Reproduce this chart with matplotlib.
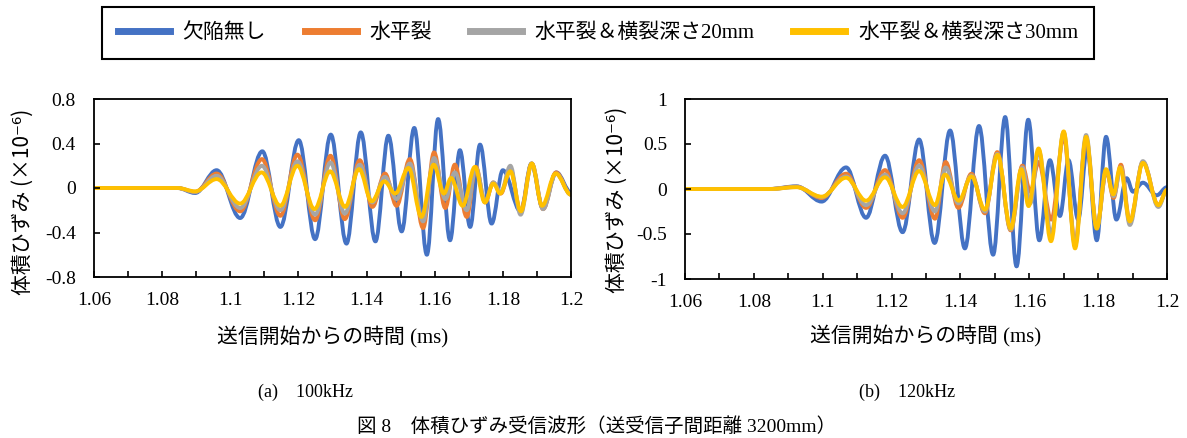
import matplotlib
matplotlib.use('Agg')
import matplotlib.pyplot as plt
from matplotlib.path import Path
from matplotlib.patches import PathPatch
from matplotlib.lines import Line2D

plt.rcParams['axes.unicode_minus'] = False

JP = ['Noto Sans CJK JP', 'DejaVu Sans']
MIX = ['Liberation Serif', 'Noto Sans CJK JP', 'DejaVu Sans']

series_names = ['欠陥無し', '水平裂', '水平裂＆横裂深さ20mm', '水平裂＆横裂深さ30mm']
colors = ['#4472C4', '#ED7D31', '#A5A5A5', '#FFC000']

xticks = [1.06, 1.08, 1.10, 1.12, 1.14, 1.16, 1.18, 1.20]
xtick_labels = ['1.06', '1.08', '1.1', '1.12', '1.14', '1.16', '1.18', '1.2']

# (a) 100kHz -- extrema of each waveform (time in ms, strain x1e-6)
t100_blue = [1.06, 1.0845, 1.0897, 1.0960, 1.1029, 1.1094, 1.1147, 1.1201, 1.1249, 1.1295,
             1.1341, 1.1383, 1.1426, 1.1464, 1.1503, 1.1540, 1.1577, 1.1610, 1.1645, 1.1674,
             1.1704, 1.1733, 1.1767, 1.1800, 1.1852, 1.1884, 1.1917, 1.1957, 1.2]
v100_blue = [0, 0, -0.045, 0.16, -0.27, 0.33, -0.35, 0.43, -0.46, 0.48,
             -0.50, 0.50, -0.48, 0.47, -0.39, 0.54, -0.60, 0.62, -0.47, 0.34,
             -0.35, 0.39, -0.32, 0.16, -0.21, 0.22, -0.18, 0.14, -0.04]

t100_orange = [1.06, 1.0845, 1.0897, 1.0960, 1.1029, 1.1093, 1.1147, 1.1197, 1.1249, 1.1294,
               1.1336, 1.1380, 1.1417, 1.1454, 1.1488, 1.1527, 1.1566, 1.1598, 1.1631, 1.1659,
               1.1694, 1.1721, 1.1748, 1.1772, 1.1794, 1.1822, 1.1852, 1.1885, 1.1918, 1.1956, 1.2]
v100_orange = [0, 0, -0.035, 0.13, -0.21, 0.26, -0.25, 0.30, -0.29, 0.29,
               -0.28, 0.25, -0.17, 0.13, -0.16, 0.26, -0.36, 0.32, -0.18, 0.21,
               -0.26, 0.19, -0.13, 0.05, -0.05, 0.17, -0.21, 0.22, -0.19, 0.14, -0.06]

t100_gray = t100_orange
v100_gray = [0, 0, -0.035, 0.11, -0.18, 0.20, -0.20, 0.24, -0.24, 0.23,
             -0.23, 0.21, -0.13, 0.10, -0.10, 0.22, -0.30, 0.27, -0.10, 0.14,
             -0.20, 0.18, -0.12, 0.05, -0.04, 0.20, -0.24, 0.22, -0.19, 0.13, -0.06]

t100_yellow = [1.06, 1.0845, 1.0897, 1.0960, 1.1029, 1.1092, 1.1147, 1.1197, 1.1247, 1.1293,
               1.1337, 1.1378, 1.1415, 1.1452, 1.1484, 1.1523, 1.1561, 1.1597, 1.1627, 1.1648,
               1.1682, 1.1718, 1.1747, 1.1772, 1.1792, 1.1822, 1.1853, 1.1885, 1.1915, 1.1955, 1.2]
v100_yellow = [0, 0, -0.03, 0.08, -0.14, 0.14, -0.16, 0.20, -0.19, 0.15,
               -0.17, 0.17, -0.12, 0.06, -0.05, 0.18, -0.26, 0.21, -0.05, 0.09,
               -0.16, 0.19, -0.13, 0.04, -0.05, 0.15, -0.21, 0.22, -0.16, 0.13, -0.06]

# (b) 120kHz
t120_blue = [1.06, 1.0845, 1.0924, 1.0997, 1.1068, 1.1126, 1.1181, 1.1232, 1.1280, 1.1325,
             1.1370, 1.1413, 1.1454, 1.1495, 1.1530, 1.1563, 1.1597, 1.1629, 1.1660, 1.1689,
             1.1714, 1.1742, 1.1768, 1.1796, 1.1823, 1.1853, 1.1883, 1.1901, 1.1930, 1.1970, 1.2]
v120_blue = [0, 0, 0.03, -0.14, 0.24, -0.32, 0.37, -0.48, 0.55, -0.60,
             0.65, -0.66, 0.70, -0.73, 0.80, -0.86, 0.77, -0.57, 0.32, -0.30,
             0.32, -0.34, 0.45, -0.57, 0.58, -0.34, 0.12, -0.03, 0.07, -0.07, 0.02]

t120_orange = [1.06, 1.0845, 1.0924, 1.0997, 1.1068, 1.1126, 1.1181, 1.1232, 1.1280, 1.1326,
               1.1357, 1.1394, 1.1432, 1.1471, 1.1507, 1.1546, 1.1580, 1.1603, 1.1627, 1.1664,
               1.1700, 1.1733, 1.1765, 1.1796, 1.1824, 1.1845, 1.1866, 1.1892, 1.1930, 1.1975, 1.2]
v120_orange = [0, 0, 0.025, -0.10, 0.17, -0.21, 0.21, -0.32, 0.32, -0.33,
               0.30, -0.21, 0.17, -0.27, 0.41, -0.46, 0.26, -0.03, 0.30, -0.34,
               0.58, -0.60, 0.56, -0.42, 0.20, -0.10, 0.27, -0.36, 0.30, -0.18, -0.01]

t120_gray = t120_orange
v120_gray = [0, 0, 0.022, -0.09, 0.14, -0.18, 0.16, -0.27, 0.26, -0.25,
             0.24, -0.16, 0.15, -0.25, 0.39, -0.45, 0.24, -0.16, 0.43, -0.50,
             0.63, -0.63, 0.60, -0.43, 0.21, -0.08, 0.24, -0.40, 0.31, -0.20, -0.01]

t120_yellow = [1.06, 1.0845, 1.0924, 1.0997, 1.1068, 1.1126, 1.1181, 1.1232, 1.1280, 1.1326,
               1.1355, 1.1395, 1.1432, 1.1471, 1.1508, 1.1546, 1.1577, 1.1598, 1.1627, 1.1663,
               1.1700, 1.1733, 1.1765, 1.1796, 1.1823, 1.1844, 1.1864, 1.1892, 1.1930, 1.1975, 1.2]
v120_yellow = [0, 0, 0.02, -0.085, 0.125, -0.13, 0.13, -0.20, 0.20, -0.18,
               0.16, -0.13, 0.14, -0.23, 0.38, -0.44, 0.22, -0.19, 0.45, -0.58,
               0.64, -0.66, 0.58, -0.44, 0.22, -0.06, 0.24, -0.36, 0.29, -0.18, -0.01]


def wave(ax, t, v, color, k=0.36):
    # smooth curve through the extrema (horizontal tangent at each one)
    verts = [(t[0], v[0])]
    codes = [Path.MOVETO]
    for i in range(1, len(t)):
        d = t[i] - t[i - 1]
        verts += [(t[i - 1] + k * d, v[i - 1]), (t[i] - k * d, v[i]), (t[i], v[i])]
        codes += [Path.CURVE4] * 3
    ax.add_patch(PathPatch(Path(verts, codes), fill=False, edgecolor=color, lw=2.8,
                           joinstyle='round', capstyle='round'))


def setup(ax, yticks, ylabels, ylim):
    ax.set_xlim(1.06, 1.2)
    ax.set_ylim(*ylim)
    ax.set_xticks(xticks)
    ax.set_xticklabels(xtick_labels, family=MIX, fontsize=14)
    ax.set_xticks([1.07, 1.09, 1.11, 1.13, 1.15, 1.17, 1.19], minor=True)
    ax.set_yticks(yticks)
    ax.set_yticklabels(ylabels, family=MIX, fontsize=14)
    ax.tick_params(which='both', direction='in', length=4, width=1.2, top=False, right=False)
    ax.tick_params(axis='x', pad=11)
    ax.tick_params(axis='y', pad=13)
    for s in ax.spines.values():
        s.set_linewidth(1.3)
        s.set_color('black')


fig = plt.figure(figsize=(11.87, 4.38), dpi=100)
ax1 = fig.add_axes([94 / 1187, 1 - 277 / 438, 477 / 1187, 178 / 438])
ax2 = fig.add_axes([685 / 1187, 1 - 279 / 438, 482 / 1187, 180 / 438])

for t, v, c in [(t100_blue, v100_blue, colors[0]), (t100_orange, v100_orange, colors[1]),
                (t100_gray, v100_gray, colors[2]), (t100_yellow, v100_yellow, colors[3])]:
    wave(ax1, t, v, c)
for t, v, c in [(t120_blue, v120_blue, colors[0]), (t120_orange, v120_orange, colors[1]),
                (t120_gray, v120_gray, colors[2]), (t120_yellow, v120_yellow, colors[3])]:
    wave(ax2, t, v, c)

setup(ax1, [-0.8, -0.4, 0, 0.4, 0.8], ['-0.8', '-0.4', '0', '0.4', '0.8'], (-0.8, 0.8))
setup(ax2, [-1, -0.5, 0, 0.5, 1], ['-1', '-0.5', '0', '0.5', '1'], (-1, 1))

ylab = '体積ひずみ (×10⁻⁶)'
ax1.text(-0.149, 0.42, ylab, transform=ax1.transAxes, rotation=90, ha='center', va='center',
         family=JP, fontsize=15)
ax2.text(-0.141, 0.44, ylab, transform=ax2.transAxes, rotation=90, ha='center', va='center',
         family=JP, fontsize=15)
xlab = '送信開始からの時間 (ms)'
ax1.text(0.5, -0.337, xlab, transform=ax1.transAxes, ha='center', va='center', family=MIX, fontsize=15)
ax2.text(0.5, -0.322, xlab, transform=ax2.transAxes, ha='center', va='center', family=MIX, fontsize=15)

handles = [Line2D([], [], color=c, lw=5) for c in colors]
leg = fig.legend(handles, series_names, loc='center', bbox_to_anchor=(598 / 1187, 1 - 33 / 438),
                 ncol=4, frameon=True, fancybox=False, framealpha=1, edgecolor='black',
                 prop={'family': MIX, 'size': 15}, handlelength=2.5, handletextpad=0.6,
                 columnspacing=1.85, borderpad=0.75)
leg.get_frame().set_linewidth(1.5)

fig.text(306 / 1187, 1 - 392 / 438, '(a)　100kHz', ha='center', va='center', family=MIX, fontsize=13)
fig.text(907 / 1187, 1 - 392 / 438, '(b)　120kHz', ha='center', va='center', family=MIX, fontsize=13)
fig.text(597 / 1187, 1 - 426 / 438, '図 8　体積ひずみ受信波形（送受信子間距離 3200mm）',
         ha='center', va='center', family=MIX, fontsize=14)

fig.savefig('out.png', dpi=100)
